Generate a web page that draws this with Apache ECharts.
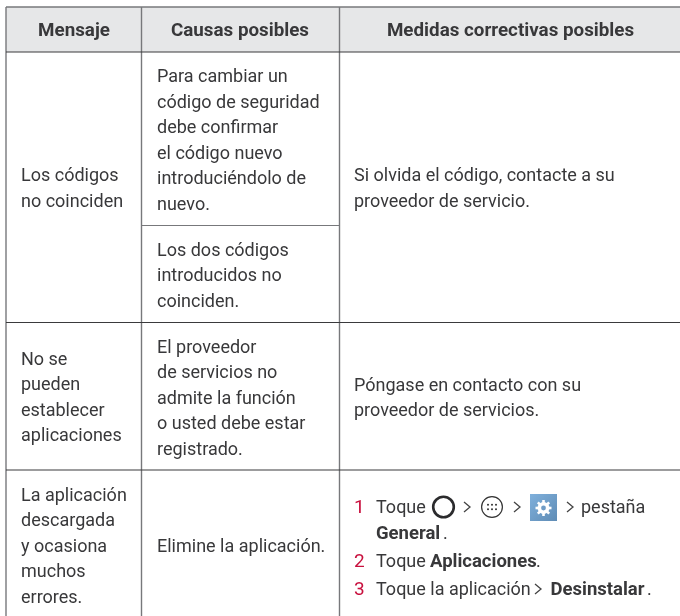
<!DOCTYPE html>
<html><head><meta charset="utf-8">
<style>html,body{margin:0;padding:0;background:#fff}#c{width:680px;height:616px}</style>
<script src="https://cdn.jsdelivr.net/npm/echarts@6/dist/echarts.min.js"></script></head>
<body><div id="c"></div>
<script>
const headers = ["Mensaje","Causas posibles","Medidas correctivas posibles"];
const messages = [["Los códigos","no coinciden"],["No se","pueden","establecer","aplicaciones"],["La aplicación","descargada","y ocasiona","muchos","errores."]];
const causesA = ["Para cambiar un","código de seguridad","debe confirmar","el código nuevo","introduciéndolo de","nuevo."];
const causesB = ["Los dos códigos","introducidos no","coinciden."];
const causesC = ["El proveedor","de servicios no","admite la función","o usted debe estar","registrado."];
const causesD = ["Elimine la aplicación."];
const remedyA = ["Si olvida el código, contacte a su","proveedor de servicio."];
const remedyB = ["Póngase en contacto con su","proveedor de servicios."];

const FONT = 'Roboto,"Noto Sans",sans-serif', SIZE = 18, LH = 25.5, INK = '#38383a';
const X = {l:6, a:141.5, b:339.5, r:680};
const Y = {t:7, h:52, m:225.5, r1:322.5, r2:470, b:616};
const els = [];
const rect = (x,y,w,h,fill) => els.push({type:'rect',shape:{x,y,width:w,height:h},style:{fill},silent:true});
const line = (x1,y1,x2,y2,c,w) => els.push({type:'line',shape:{x1,y1,x2,y2},style:{stroke:c,lineWidth:w},silent:true});
const text = (x,y,s,o={}) => els.push({type:'text',x,y,silent:true,style:{text:s,font:`${o.w||400} ${o.size||SIZE}px ${FONT}`,fill:o.c||INK,textAlign:o.a||'left',textVerticalAlign:'middle'}});
const block = (x,yc,lines) => lines.forEach((s,i)=>text(x,yc+(i-(lines.length-1)/2)*LH,s));
const chev = (x,y) => els.push({type:'polyline',shape:{points:[[x,y-5],[x+6,y],[x,y+5]]},style:{fill:'none',stroke:'#444',lineWidth:1.3},silent:true});

rect(X.l,Y.t,X.r-X.l,Y.h-Y.t,'#e6e7e8');
text(74,31.5,headers[0],{w:700,a:'center',size:18.8});
text(240,31.5,headers[1],{w:700,a:'center',size:18.8});
text(510.5,31.5,headers[2],{w:700,a:'center',size:18.8});
block(21,189.5,messages[0]);
block(21,398.5,messages[1]);
block(21,547,messages[2]);
block(157,141.5,causesA);
block(157,276.5,causesB);
block(157,399,causesC);
block(157,547,causesD);
block(354,189.5,remedyA);
block(354,399,remedyB);

const NUM='#c8103e';
text(354,508.5,'1',{c:NUM,size:19});
text(376,508.5,'Toque');
els.push({type:'circle',shape:{cx:443.5,cy:507,r:10.3},style:{fill:'none',stroke:'#2b2b2d',lineWidth:2.6},silent:true});
chev(464,507);
els.push({type:'circle',shape:{cx:492,cy:507,r:10.4},style:{fill:'#fff',stroke:'#333',lineWidth:1.2},silent:true});
[[-4,-2.2],[0,-2.2],[4,-2.2],[-4,2.2],[0,2.2],[4,2.2]].forEach(d=>els.push({type:'circle',shape:{cx:492+d[0],cy:507+d[1],r:1},style:{fill:'#333'},silent:true}));
chev(514,507);
els.push({type:'rect',shape:{x:530,y:494,width:27,height:27},style:{fill:new echarts.graphic.LinearGradient(0,0,1,1,[{offset:0,color:'#7fb0dc'},{offset:1,color:'#5f8cb5'}])},silent:true});
els.push({type:'circle',shape:{cx:543.5,cy:508,r:4.2},style:{fill:'none',stroke:'#fff',lineWidth:3.6},silent:true});
[0,45,90,135].forEach(a=>{const r=a*Math.PI/180,c=Math.cos(r)*8,s=Math.sin(r)*8;line(543.5-c,508-s,543.5+c,508+s,'#fff',2.6);});
els.push({type:'circle',shape:{cx:543.5,cy:508,r:2.4},style:{fill:'#6f9cc6'},silent:true});
chev(567,507);
text(581,508.5,'pestaña');
text(376,534,'General',{w:700,size:18.5});
text(443,534,'.');
text(354,562,'2',{c:NUM,size:19});
text(376,562,'Toque');
text(430,562,'Aplicaciones',{w:700,size:18.5});
text(536,562,'.');
text(354,590,'3',{c:NUM,size:19});
text(376,590,'Toque la aplicación');
chev(535,589);
text(550.5,590,'Desinstalar',{w:700,size:18.5});
text(647,590,'.');

const G='#77787b', D='#3a3a3c';
line(X.l,Y.t,X.r,Y.t,G,1.4);
line(X.l,Y.t,X.l,Y.b,G,1.4);
line(X.a,Y.t,X.a,Y.b,G,1.4);
line(X.b,Y.t,X.b,Y.b,G,1.4);
line(X.a,Y.m,X.b,Y.m,G,1.2);
line(X.l,Y.h,X.r,Y.h,D,1.2);
line(X.l,Y.r1,X.r,Y.r1,D,1.2);
line(X.l,Y.r2,X.r,Y.r2,D,1.2);

echarts.init(document.getElementById('c'),null,{renderer:'canvas'}).setOption({animation:false,graphic:{elements:els}});
</script></body></html>
